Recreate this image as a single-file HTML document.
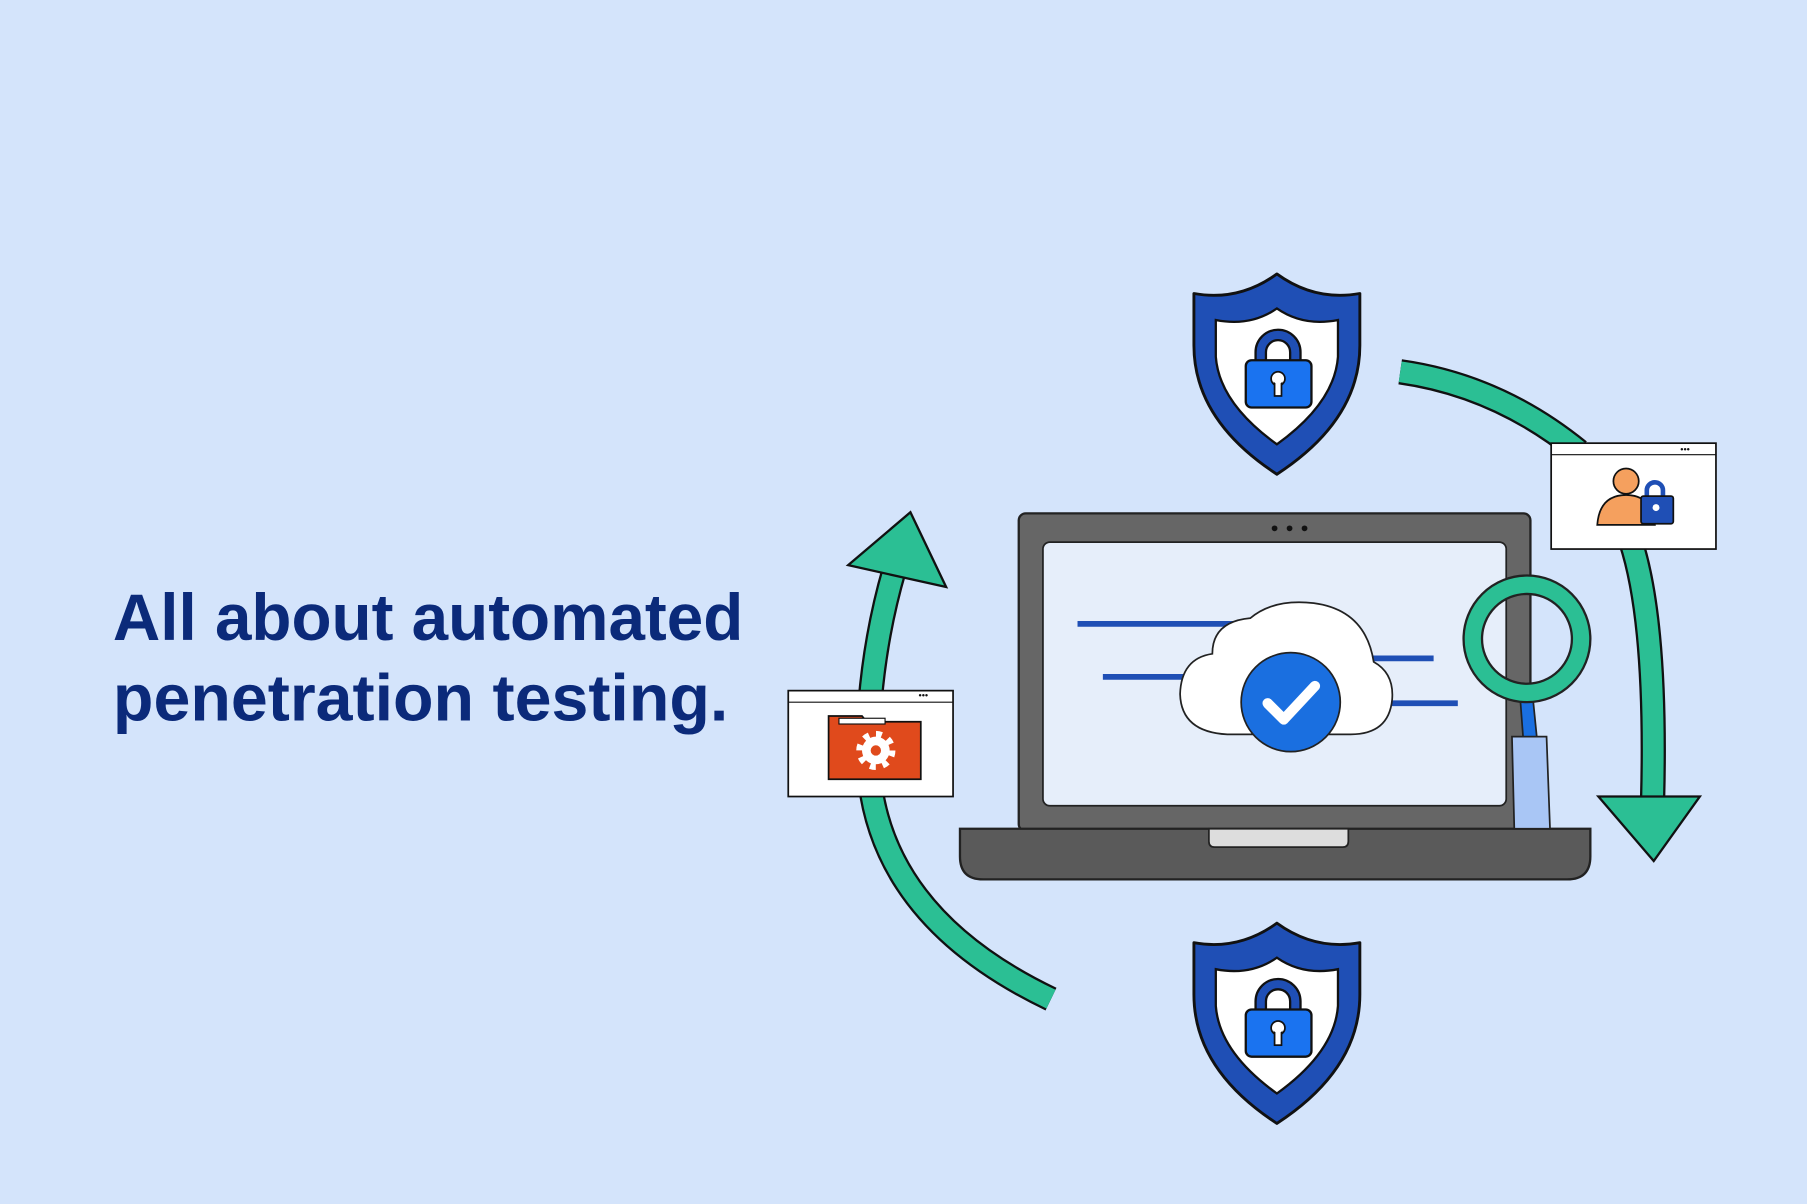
<!DOCTYPE html>
<html><head><meta charset="utf-8"><style>
html,body{margin:0;padding:0;background:#d4e4fb;}
svg{display:block}
</style></head><body>
<svg width="1807" height="1204" viewBox="0 0 1568 1046" preserveAspectRatio="none" xmlns="http://www.w3.org/2000/svg">
<defs>
<g id="shield">
<path d="M1108,238 Q1075,262 1036,255 L1036,300 Q1036,365 1108,412 Q1180,365 1180,300 L1180,255 Q1141,262 1108,238 Z" fill="#1f4fb5" stroke="#111" stroke-width="2.5" stroke-linejoin="round"/>
<path d="M1108,268 Q1085,284 1055,278 L1055,310 Q1058,350 1108,386 Q1158,350 1161,310 L1161,278 Q1131,284 1108,268 Z" fill="#fff" stroke="#111" stroke-width="2"/>
<path d="M1094,316 L1094,306 A15,15 0 0 1 1124,306 L1124,316" fill="none" stroke="#111" stroke-width="11"/>
<path d="M1094,316 L1094,306 A15,15 0 0 1 1124,306 L1124,316" fill="none" stroke="#1f4fb5" stroke-width="7"/>
<rect x="1081" y="313" width="57" height="41" rx="5" fill="#1a73f0" stroke="#111" stroke-width="2"/>
<circle cx="1109" cy="329" r="6" fill="#fff" stroke="#111" stroke-width="1.5"/>
<rect x="1106" y="332" width="6" height="12" fill="#fff" stroke="#111" stroke-width="1.5"/>
<circle cx="1109" cy="329" r="4.5" fill="#fff"/>
</g>
</defs>
<rect width="1568" height="1046" fill="#d4e4fb"/>

<text x="98" y="556" font-family="Liberation Sans, sans-serif" font-weight="bold" font-size="57" fill="#0b2a7a" textLength="547" lengthAdjust="spacingAndGlyphs">All about automated</text>
<text x="98" y="626" font-family="Liberation Sans, sans-serif" font-weight="bold" font-size="57" fill="#0b2a7a" textLength="534" lengthAdjust="spacingAndGlyphs">penetration testing.</text>

<!-- right arc -->
<path d="M1215,323 Q1300,335 1370,392" fill="none" stroke="#111" stroke-width="22"/>
<path d="M1215,323 Q1300,335 1370,392" fill="none" stroke="#2bbf94" stroke-width="18"/>
<path d="M1415,470 Q1438,540 1434,695" fill="none" stroke="#111" stroke-width="22"/>
<path d="M1415,470 Q1438,540 1434,695" fill="none" stroke="#2bbf94" stroke-width="18"/>
<path d="M1387,692 L1475,692 L1435,748 Z" fill="#2bbf94" stroke="#111" stroke-width="2"/>

<!-- left arc -->
<path d="M912,868 Q770,800 755,680" fill="none" stroke="#111" stroke-width="22"/>
<path d="M912,868 Q770,800 755,680" fill="none" stroke="#2bbf94" stroke-width="18"/>
<path d="M755,610 Q760,550 776,495" fill="none" stroke="#111" stroke-width="22"/>
<path d="M755,610 Q760,550 776,495" fill="none" stroke="#2bbf94" stroke-width="18"/>
<path d="M736,491 L790,445 L821,510 Z" fill="#2bbf94" stroke="#111" stroke-width="2"/>

<!-- windows -->
<rect x="1346" y="385" width="143" height="92" fill="#fff" stroke="#111" stroke-width="1.5"/>
<line x1="1346" y1="395" x2="1489" y2="395" stroke="#111" stroke-width="1"/>
<text x="1458" y="393" font-size="8" font-family="Liberation Sans, sans-serif" fill="#111">•••</text>
<circle cx="1411" cy="418" r="11" fill="#f5a05e" stroke="#111" stroke-width="1.5"/>
<path d="M1386,456 Q1388,430 1411,430 Q1434,430 1436,456 Z" fill="#f5a05e" stroke="#111" stroke-width="1.5"/>
<path d="M1429,432 L1429,426 A7,7 0 0 1 1443,426 L1443,432" fill="none" stroke="#1f4fb5" stroke-width="4"/>
<rect x="1424" y="431" width="28" height="24" rx="2" fill="#1f4fb5" stroke="#111" stroke-width="1.5"/>
<circle cx="1437" cy="441" r="3" fill="#fff"/>

<rect x="684" y="600" width="143" height="92" fill="#fff" stroke="#111" stroke-width="1.5"/>
<line x1="684" y1="610" x2="827" y2="610" stroke="#111" stroke-width="1"/>
<text x="797" y="607" font-size="8" font-family="Liberation Sans, sans-serif" fill="#111">•••</text>
<path d="M719,622 L748,622 L752,627 L799,627 L799,677 L719,677 Z" fill="#e04a1c" stroke="#111" stroke-width="1.5"/>
<rect x="728" y="624" width="40" height="5" fill="#fff" stroke="#111" stroke-width="1"/>
<circle cx="760" cy="652" r="12" fill="#fff"/>
<circle cx="760" cy="652" r="14" fill="none" stroke="#fff" stroke-width="6" stroke-dasharray="5 6"/>
<circle cx="760" cy="652" r="4.5" fill="#e04a1c"/>

<!-- shields -->
<use href="#shield"/>
<use href="#shield" transform="translate(0,564)"/>

<!-- laptop -->
<rect x="884" y="446" width="444" height="276" rx="6" fill="#666" stroke="#222" stroke-width="2"/>
<rect x="905" y="471" width="402" height="229" rx="6" fill="#e6eefa" stroke="#222" stroke-width="1.5"/>
<circle cx="1106" cy="459" r="2.5" fill="#111"/><circle cx="1119" cy="459" r="2.5" fill="#111"/><circle cx="1132" cy="459" r="2.5" fill="#111"/>
<path d="M833,720 L1380,720 L1380,744 Q1380,764 1360,764 L853,764 Q833,764 833,744 Z" fill="#5a5a5a" stroke="#222" stroke-width="2"/>
<path d="M1049,720 L1170,720 L1170,731 Q1170,736 1165,736 L1054,736 Q1049,736 1049,731 Z" fill="#ddd" stroke="#222" stroke-width="1.5"/>

<line x1="935" y1="542" x2="1110" y2="542" stroke="#1f4fb5" stroke-width="5"/>
<line x1="957" y1="588" x2="1030" y2="588" stroke="#1f4fb5" stroke-width="5"/>
<line x1="1190" y1="572" x2="1244" y2="572" stroke="#1f4fb5" stroke-width="5"/>
<line x1="1205" y1="611" x2="1265" y2="611" stroke="#1f4fb5" stroke-width="5"/>
<path d="M1065,638 Q1025,636 1024,603 Q1025,572 1052,568 Q1052,540 1085,537 Q1105,520 1140,524 Q1185,530 1192,575 Q1210,585 1208,608 Q1205,638 1172,638 Z" fill="#fff" stroke="#222" stroke-width="1.5"/>
<circle cx="1120" cy="610" r="43" fill="#1a6fe0" stroke="#222" stroke-width="1.5"/>
<path d="M1100,611 L1114,625 L1141,596" fill="none" stroke="#fff" stroke-width="9" stroke-linecap="round" stroke-linejoin="round"/>

<!-- magnifier -->
<path d="M1319,605 L1330,605 L1334,645 L1322,645 Z" fill="#1a6fe0" stroke="#222" stroke-width="1.5"/>
<path d="M1312,640 L1342,640 L1345,720 L1314,720 Z" fill="#a9c6f5" stroke="#222" stroke-width="1.5"/>
<circle cx="1325" cy="555" r="47" fill="none" stroke="#222" stroke-width="18"/>
<circle cx="1325" cy="555" r="47" fill="none" stroke="#2bbf94" stroke-width="14"/>
</svg>
</body></html>
